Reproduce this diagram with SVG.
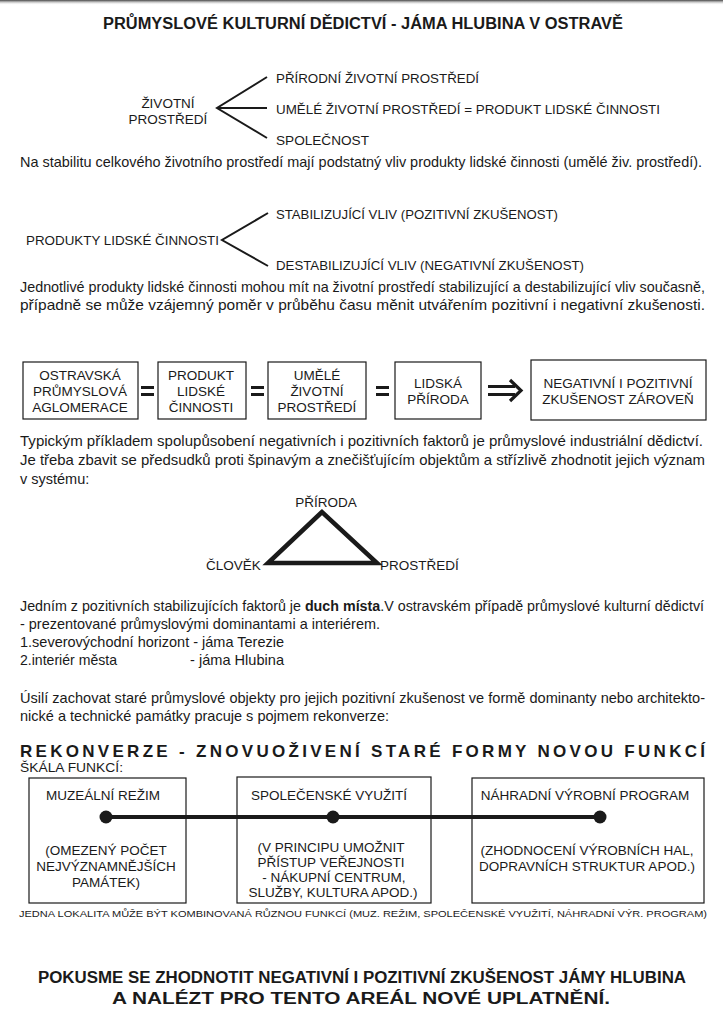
<svg xmlns="http://www.w3.org/2000/svg" width="723" height="1024" viewBox="0 0 723 1024">
<defs>
<linearGradient id="scan" x1="0" y1="0" x2="0" y2="1">
<stop offset="0" stop-color="#444"/>
<stop offset="1" stop-color="#fff" stop-opacity="0"/>
</linearGradient>
</defs>
<style>
text{font-family:"Liberation Sans",Arial,sans-serif;fill:#1a1a1a}
.t{font-size:13.5px}
.p{font-size:14.5px}
.c{text-anchor:middle}
.b{font-weight:bold}
.box{fill:none;stroke:#1a1a1a;stroke-width:1.2}
.fork{fill:none;stroke:#1a1a1a;stroke-width:2}
.bar{fill:#1a1a1a}
</style>
<rect width="723" height="1024" fill="#fff"/>
<rect width="723" height="5" fill="url(#scan)"/>

<text class="b c" x="363" y="29" font-size="16" textLength="520" lengthAdjust="spacingAndGlyphs">PRŮMYSLOVÉ KULTURNÍ DĚDICTVÍ - JÁMA HLUBINA V OSTRAVĚ</text>

<g id="fork1">
<text class="t c" x="168" y="108">ŽIVOTNÍ</text>
<text class="t c" x="168" y="124">PROSTŘEDÍ</text>
<text class="t" x="276" y="83" textLength="203" lengthAdjust="spacingAndGlyphs">PŘÍRODNÍ ŽIVOTNÍ PROSTŘEDÍ</text>
<text class="t" x="276" y="114" textLength="384" lengthAdjust="spacingAndGlyphs">UMĚLÉ ŽIVOTNÍ PROSTŘEDÍ = PRODUKT LIDSKÉ ČINNOSTI</text>
<text class="t" x="276" y="145" textLength="93" lengthAdjust="spacingAndGlyphs">SPOLEČNOST</text>
</g>
<g id="fork1-lines">
<polyline class="fork" points="267,77 217,108 267,138"/>
<line class="fork" x1="217" y1="108" x2="267" y2="108"/>
</g>

<text class="p" x="20" y="167" textLength="682" lengthAdjust="spacingAndGlyphs">Na stabilitu celkového životního prostředí mají podstatný vliv produkty lidské činnosti (umělé živ. prostředí).</text>

<g id="fork2">
<text class="t" x="26" y="245" textLength="193" lengthAdjust="spacingAndGlyphs">PRODUKTY LIDSKÉ ČINNOSTI</text>
<text class="t" x="276" y="219" textLength="282" lengthAdjust="spacingAndGlyphs">STABILIZUJÍCÍ VLIV (POZITIVNÍ ZKUŠENOST)</text>
<text class="t" x="276" y="270" textLength="308" lengthAdjust="spacingAndGlyphs">DESTABILIZUJÍCÍ VLIV (NEGATIVNÍ ZKUŠENOST)</text>
</g>
<g id="fork2-lines">
<polyline class="fork" points="268,213 222,240 268,266"/>
</g>

<text class="p" x="20" y="292" textLength="685" lengthAdjust="spacingAndGlyphs">Jednotlivé produkty lidské činnosti mohou mít na životní prostředí stabilizující a destabilizující vliv současně,</text>
<text class="p" x="20" y="310" textLength="685" lengthAdjust="spacingAndGlyphs">případně se může vzájemný poměr v průběhu času měnit utvářením pozitivní i negativní zkušenosti.</text>

<g id="b1">
<rect class="box" x="23" y="362" width="115" height="57"/>
<text class="t c" x="80" y="380">OSTRAVSKÁ</text>
<text class="t c" x="80" y="396">PRŮMYSLOVÁ</text>
<text class="t c" x="80" y="412">AGLOMERACE</text>
</g>
<g id="b2">
<rect class="box" x="158" y="362" width="88" height="57"/>
<text class="t c" x="201" y="380">PRODUKT</text>
<text class="t c" x="201" y="396">LIDSKÉ</text>
<text class="t c" x="201" y="412">ČINNOSTI</text>
</g>
<g id="b3">
<rect class="box" x="268" y="362" width="98" height="57"/>
<text class="t c" x="317" y="380">UMĚLÉ</text>
<text class="t c" x="317" y="396">ŽIVOTNÍ</text>
<text class="t c" x="317" y="412">PROSTŘEDÍ</text>
</g>
<g id="b4">
<rect class="box" x="395" y="362" width="86" height="57"/>
<text class="t c" x="438" y="388">LIDSKÁ</text>
<text class="t c" x="438" y="404">PŘÍRODA</text>
</g>
<g id="b5">
<rect class="box" x="531" y="360" width="175" height="60"/>
<text class="t c" x="618" y="388">NEGATIVNÍ I POZITIVNÍ</text>
<text class="t c" x="618" y="404">ZKUŠENOST ZÁROVEŇ</text>
</g>
<g id="connectors">
<rect class="bar" x="141" y="386" width="13" height="3"/>
<rect class="bar" x="141" y="393" width="13" height="3"/>
<rect class="bar" x="251" y="386" width="13" height="3"/>
<rect class="bar" x="251" y="393" width="13" height="3"/>
<rect class="bar" x="376" y="386" width="13" height="3"/>
<rect class="bar" x="376" y="393" width="13" height="3"/>
<rect class="bar" x="488" y="385" width="27" height="3"/>
<rect class="bar" x="488" y="393" width="27" height="3"/>
<polyline points="510,380 521,390.5 510,401" fill="none" stroke="#1a1a1a" stroke-width="3.2"/>
</g>

<text class="p" x="20" y="446" textLength="683" lengthAdjust="spacingAndGlyphs">Typickým příkladem spolupůsobení negativních i pozitivních faktorů je průmyslové industriální dědictví.</text>
<text class="p" x="20" y="465" textLength="685" lengthAdjust="spacingAndGlyphs">Je třeba zbavit se předsudků proti špinavým a znečišťujícím objektům a střízlivě zhodnotit jejich význam</text>
<text class="p" x="20" y="484">v systému:</text>

<g id="triangle">
<polygon points="322,512 268,563 377,563" fill="none" stroke="#1a1a1a" stroke-width="4.5" stroke-linejoin="miter"/>
<text class="t c" x="326" y="507">PŘÍRODA</text>
<text class="t" x="206" y="570">ČLOVĚK</text>
<text class="t" x="380" y="570">PROSTŘEDÍ</text>
</g>

<text class="p" x="20" y="611" textLength="684" lengthAdjust="spacingAndGlyphs">Jedním z pozitivních stabilizujících faktorů je <tspan class="b">duch místa</tspan>.V ostravském případě průmyslové kulturní dědictví</text>
<text class="p" x="20" y="629" textLength="360" lengthAdjust="spacingAndGlyphs">- prezentované průmyslovými dominantami a interiérem.</text>
<text class="p" x="20" y="647" textLength="264" lengthAdjust="spacingAndGlyphs">1.severovýchodní horizont - jáma Terezie</text>
<text class="p" x="20" y="665" textLength="97" lengthAdjust="spacingAndGlyphs">2.interiér města</text>
<text class="p" x="190" y="665" textLength="94" lengthAdjust="spacingAndGlyphs">- jáma Hlubina</text>

<text class="p" x="20" y="703" textLength="685" lengthAdjust="spacingAndGlyphs">Úsilí zachovat staré průmyslové objekty pro jejich pozitivní zkušenost ve formě dominanty nebo architekto-</text>
<text class="p" x="20" y="721" textLength="369" lengthAdjust="spacingAndGlyphs">nické a technické památky pracuje s pojmem rekonverze:</text>

<text class="b" x="20" y="757" font-size="17" textLength="685" lengthAdjust="spacing">REKONVERZE - ZNOVUOŽIVENÍ STARÉ FORMY NOVOU FUNKCÍ</text>
<text x="20" y="772" font-size="13" textLength="103" lengthAdjust="spacingAndGlyphs">ŠKÁLA FUNKCÍ:</text>

<g id="f1">
<rect class="box" x="29" y="778" width="157" height="125"/>
<text class="t c" x="103" y="800">MUZEÁLNÍ REŽIM</text>
<text class="t c" x="106" y="855">(OMEZENÝ POČET</text>
<text class="t c" x="106" y="871">NEJVÝZNAMNĚJŠÍCH</text>
<text class="t c" x="106" y="887">PAMÁTEK)</text>
</g>
<g id="f2">
<rect class="box" x="237" y="777" width="194" height="126"/>
<text class="t c" x="329" y="800">SPOLEČENSKÉ VYUŽITÍ</text>
<text class="t c" x="331" y="852">(V PRINCIPU UMOŽNIT</text>
<text class="t c" x="331" y="867">PŘÍSTUP VEŘEJNOSTI</text>
<text class="t c" x="334" y="882">- NÁKUPNÍ CENTRUM,</text>
<text class="t c" x="333" y="897">SLUŽBY, KULTURA APOD.)</text>
</g>
<g id="f3">
<rect class="box" x="472" y="778" width="232" height="125"/>
<text class="t c" x="585" y="800">NÁHRADNÍ VÝROBNÍ PROGRAM</text>
<text class="t c" x="587" y="855">(ZHODNOCENÍ VÝROBNÍCH HAL,</text>
<text class="t c" x="587" y="871">DOPRAVNÍCH STRUKTUR APOD.)</text>
</g>
<g id="scale">
<line x1="106" y1="817" x2="600" y2="817" stroke="#1a1a1a" stroke-width="4"/>
<circle cx="106" cy="817" r="6.5" fill="#1a1a1a"/>
<circle cx="333" cy="817" r="6.5" fill="#1a1a1a"/>
<circle cx="600" cy="817" r="6.5" fill="#1a1a1a"/>
</g>

<text x="19" y="917" font-size="9.5" textLength="688" lengthAdjust="spacingAndGlyphs">JEDNA LOKALITA MŮŽE BÝT KOMBINOVANÁ RŮZNOU FUNKCÍ (MUZ. REŽIM, SPOLEČENSKÉ VYUŽITÍ, NÁHRADNÍ VÝR. PROGRAM)</text>

<text class="b c" x="362" y="983" font-size="16" textLength="648" lengthAdjust="spacingAndGlyphs">POKUSME SE ZHODNOTIT NEGATIVNÍ I POZITIVNÍ ZKUŠENOST JÁMY HLUBINA</text>
<text class="b c" x="361" y="1004" font-size="16" textLength="498" lengthAdjust="spacingAndGlyphs">A NALÉZT PRO TENTO AREÁL NOVÉ UPLATNĚNÍ.</text>
</svg>
